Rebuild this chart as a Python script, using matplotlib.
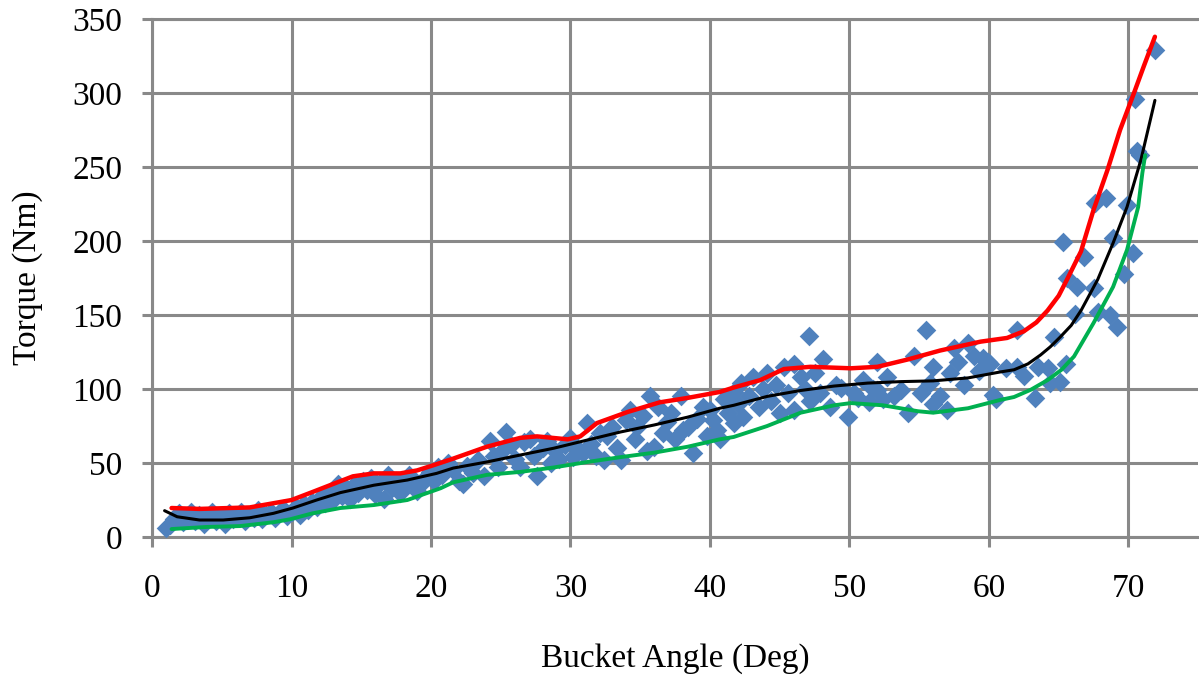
import numpy as np
import matplotlib.pyplot as plt

angle = [1.0, 1.3, 1.6, 1.9, 2.2, 2.5, 2.8, 3.1, 3.4, 3.7, 4.0, 4.3, 4.6, 4.9, 5.2, 5.5, 5.8, 6.1, 6.4, 6.7,
         7.0, 7.3, 7.6, 7.9, 8.2, 8.5, 8.8, 9.1, 9.4, 9.7, 10.0, 10.3, 10.6, 10.9, 11.2, 11.5, 11.8, 12.1, 12.4, 12.7,
         13.0, 13.3, 13.6, 13.9, 14.2, 14.5, 14.8, 15.1, 15.4, 15.7, 16.0, 16.3, 16.6, 16.9, 17.2, 17.5, 17.8, 18.1, 18.4, 18.7,
         19.0, 19.3, 19.6, 19.9, 20.2, 20.5,
         20.8, 21.2, 21.6, 22.0, 22.3, 22.6, 23.0, 23.4, 23.8, 24.2, 24.5, 24.8, 25.1, 25.4, 25.7, 26.0, 26.4, 26.7, 27.1, 27.4,
         27.6, 28.0, 28.3, 28.6, 28.9, 29.2, 29.6, 30.0, 30.2, 30.5, 30.9, 31.2, 31.5, 31.8, 32.1, 32.4, 32.6, 33.0, 33.3, 33.6,
         34.0, 34.3, 34.6, 34.8, 35.2, 35.5, 35.7, 36.0, 36.3, 36.6, 36.9, 37.2, 37.5, 37.9, 38.1, 38.4, 38.8, 39.1, 39.5, 39.8,
         40.0, 40.2, 40.5, 40.7,
         41.0, 41.3, 41.7, 41.7, 42.0, 42.2, 42.4, 42.8, 43.1, 43.5, 43.8, 44.1, 44.4, 44.7, 45.0, 45.3, 45.6, 46.0, 46.0, 46.5,
         46.8, 47.1, 47.2, 47.5, 47.9, 48.1, 48.6, 49.0, 49.4, 49.9, 50.3, 50.6, 51.0, 51.4, 51.7, 52.0, 52.0, 52.4, 52.7, 53.2,
         53.7, 54.2, 54.6, 55.1, 55.5, 55.8, 56.0, 56.0, 56.5, 57.0, 57.2, 57.5, 57.8, 58.2, 58.5, 58.9, 59.3, 59.6, 59.9, 60.1,
         60.3, 60.5,
         61.2, 62.0, 62.0, 62.5, 63.3, 63.5, 64.2, 64.4, 64.7, 65.1, 65.3, 65.5, 65.6, 66.2, 66.3, 66.8, 67.5, 67.6, 67.8, 68.4,
         68.7, 68.9, 69.2, 69.7, 69.9, 70.3, 70.5, 70.6, 70.8, 71.9]
torque = [6, 8, 12, 16, 10, 14, 17, 11, 15, 9, 13, 17, 11, 14, 9, 16, 12, 14, 17, 11,
          15, 13, 18, 12, 15, 17, 13, 16, 19, 14, 17, 20, 15, 22, 18, 24, 20, 27, 23, 30,
          25, 36, 28, 33, 26, 35, 30, 38, 32, 40, 29, 36, 26, 42, 33, 38, 30, 35, 42, 38,
          31, 36, 40, 44, 38, 47,
          42, 50, 45, 38, 36, 48, 43, 52, 41, 65, 55, 47, 58, 71, 62, 53, 47, 64, 66, 55,
          41, 60, 65, 50, 58, 53, 62, 67, 54, 60, 57, 77, 63, 55, 70, 52, 68, 74, 60, 52,
          79, 86, 66, 74, 82, 58, 95, 61, 88, 70, 78, 84, 66, 95, 72, 74, 57, 80, 88, 68,
          86, 79, 72, 66,
          93, 84, 98, 77, 90, 104, 81, 95, 108, 88, 100, 111, 92, 103, 84, 115, 97, 117, 86, 108,
          100, 136, 92, 111, 97, 120, 88, 103, 101, 81, 97, 94, 106, 91, 100, 118, 99, 93, 108, 95,
          99, 84, 122, 97, 140, 104, 90, 115, 95, 86, 111, 128, 118, 103, 131, 122, 112, 121, 118, 117,
          96, 93,
          114, 115, 140, 109, 94, 115, 114, 104, 135, 105, 199, 117, 175, 151, 169, 189, 168, 226, 152, 229,
          150, 202, 142, 178, 224, 192, 296, 261, 258, 329]

# fitted curves
upper_x = [1.4, 3.4, 7.0, 10.0, 11.5, 13.3, 14.4, 15.9, 17.8, 19.0, 20.2, 21.6, 24.0, 26.4, 27.6, 29.8, 30.7,
           31.9, 34.1, 36.4, 38.4, 40.7, 41.7, 43.6, 45.3, 47.2, 50.1, 52.0, 54.2, 56.5, 59.4, 61.3, 62.5,
           63.4, 64.2, 65.0, 65.6, 66.6, 67.5, 68.5, 69.4, 70.4, 71.1, 71.9]
upper_y = [19.6, 19, 20, 25, 30.4, 37, 41, 43, 43, 45, 48.6, 53, 61, 67, 68, 66, 68,
           77, 84.5, 91, 94, 98, 101, 106, 113.5, 115, 114, 115, 120, 126, 132, 134.5, 139,
           145, 153, 163, 174, 193, 221, 248, 275, 300, 318, 338]
mean_x = [0.9, 1.8, 3.4, 5.1, 7.0, 8.7, 10.1, 11.8, 13.5, 15.9, 18.3, 20.4, 21.6, 24.0, 26.4, 28.8, 31.2,
          33.6, 36.0, 38.4, 40.7, 41.7, 44.1, 46.5, 48.9, 51.3, 53.7, 56.0, 58.5, 60.8, 61.8, 62.8, 63.7, 64.4, 65.1,
          65.9, 66.6, 67.8, 68.9, 69.9, 70.9, 71.9]
mean_y = [17.8, 13.7, 11.5, 11.5, 13, 16, 19.6, 25, 30, 35, 38.5, 43, 46.6, 50.7, 55.4, 60, 65.5,
          71, 75.7, 81, 87, 89, 95, 99, 102, 104, 105, 105.5, 107.5, 111.5, 113, 117, 123, 128.5, 135,
          143, 153, 174, 198.6, 223, 255, 295]
lower_x = [1.4, 3.9, 6.3, 8.7, 9.9, 11.5, 13.5, 15.9, 18.3, 20.7, 21.6, 24.0, 26.4, 28.8, 31.2, 33.6,
           36.0, 38.4, 40.7, 41.7, 44.1, 46.5, 48.9, 50.1, 52.4, 54.9, 56.0, 58.5, 60.8, 61.8, 63.0, 64.2,
           65.2, 66.1, 67.5, 68.9, 69.9, 70.7, 71.0, 71.2]
lower_y = [5.4, 6.8, 7.4, 10, 12, 16, 19.6, 21.6, 25, 33, 37, 42, 44, 47, 50.7, 54,
           57, 61, 66, 67.6, 75, 84, 89, 90.5, 89, 85, 84, 87, 92.6, 94.6, 99.5, 106,
           113, 122, 144.6, 169, 194, 223, 246, 258]

plt.rcParams['font.family'] = ['Liberation Serif', 'DejaVu Serif']

fig = plt.figure(figsize=(11.99, 6.75), dpi=100)
ax = fig.add_axes([0.1268, 0.2044, 0.8725, 0.7675])

grey = '#898989'
ax.scatter(angle, torque, marker='D', s=100, color='#4F81BD', linewidths=0, zorder=3)
line_kw = dict(zorder=4, solid_joinstyle='round', solid_capstyle='round')
ax.plot(upper_x, upper_y, color='#FF0000', lw=3.2, **line_kw)
ax.plot(mean_x, mean_y, color='black', lw=2.2, **line_kw)
ax.plot(lower_x, lower_y, color='#00B050', lw=2.8, **line_kw)

ax.set_xlim(0, 75)
ax.set_ylim(0, 350)
ax.set_xticks(np.arange(0, 71, 10))
ax.set_yticks(np.arange(0, 351, 50))
ax.grid(True, color=grey, lw=2.2, zorder=0)
ax.set_axisbelow(True)
for s in ['left', 'bottom', 'top']:
    ax.spines[s].set_color(grey)
    ax.spines[s].set_linewidth(2.2)
ax.spines['right'].set_visible(False)
ax.tick_params(axis='both', colors=grey, width=2.2, length=7.5, labelsize=24, labelcolor='black')
ax.tick_params(axis='x', pad=19)
ax.tick_params(axis='y', pad=14)

ax.set_xlabel('Bucket Angle (Deg)', fontsize=24, labelpad=28)
ax.set_ylabel('Torque (Nm)', fontsize=24, labelpad=21)

fig.savefig('out.png', dpi=100)
